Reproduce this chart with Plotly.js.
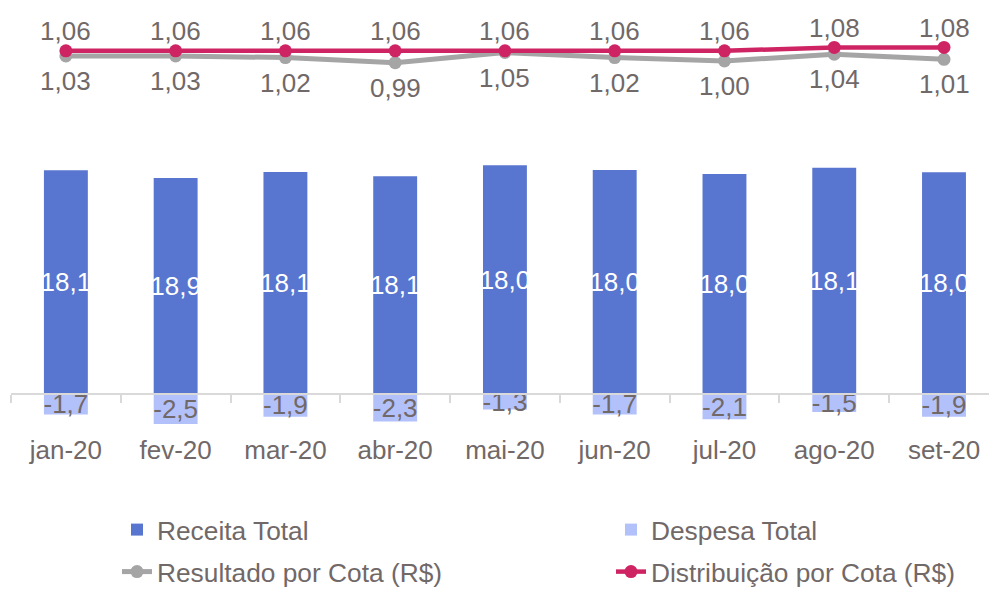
<!DOCTYPE html>
<html><head><meta charset="utf-8">
<script src="https://cdn.plot.ly/plotly-3.0.1.min.js"></script>
<style>html,body{margin:0;padding:0;background:#fff}#chart{width:989px;height:589px}</style>
</head><body><div id="chart"></div>
<script>
const months = ['jan-20','fev-20','mar-20','abr-20','mai-20','jun-20','jul-20','ago-20','set-20'];
const receitaTotal = [18.64,18.00,18.50,18.14,19.06,18.67,18.33,18.86,18.47];
const receitaLabels = [18.1,18.9,18.1,18.1,18.0,18.0,18.0,18.1,18.0];
const despesaTotal = [-1.7,-2.5,-1.9,-2.3,-1.3,-1.7,-2.1,-1.5,-1.9];
const resultadoPorCota = [1.03,1.03,1.02,0.99,1.05,1.02,1.00,1.04,1.01];
const distribuicaoPorCota = [1.06,1.06,1.06,1.06,1.06,1.06,1.06,1.08,1.08];

const FONT = 'Liberation Sans, Arial, sans-serif';
const TXT = '#716868';
const FS = 26;
const fmt = (v, d) => v.toFixed(d).replace('.', ',');

const traces = [
  {type:'bar', name:'Receita Total', x:months, y:receitaTotal,
   marker:{color:'#5876cf'}, text:receitaLabels.map(v=>fmt(v,1)),
   textposition:'inside', insidetextanchor:'middle', textangle:0, constraintext:'none',
   textfont:{family:FONT,size:FS,color:'#ffffff'}, legend:'legend', hoverinfo:'x+y'},
  {type:'bar', name:'Despesa Total', x:months, y:despesaTotal,
   marker:{color:'#b3c1fb'}, text:despesaTotal.map(v=>fmt(v,1)),
   textposition:'inside', insidetextanchor:'middle', textangle:0, constraintext:'none',
   textfont:{family:FONT,size:FS,color:TXT}, legend:'legend2', hoverinfo:'x+y'},
  {type:'scatter', mode:'lines+markers', name:'Resultado por Cota (R$)', x:months, y:resultadoPorCota,
   yaxis:'y2', line:{color:'#a5a5a5', width:5}, marker:{color:'#a5a5a5', size:13}, legend:'legend3'},
  {type:'scatter', mode:'lines+markers', name:'Distribuição por Cota (R$)', x:months, y:distribuicaoPorCota,
   yaxis:'y2', line:{color:'#cf2463', width:4.5}, marker:{color:'#cf2463', size:13}, legend:'legend4'}
];

const annotations = [];
months.forEach((m,i)=>{
  annotations.push({x:m, y:distribuicaoPorCota[i], xref:'x', yref:'y2', text:fmt(distribuicaoPorCota[i],2),
    showarrow:false, yshift:19.5, font:{family:FONT,size:FS,color:TXT}});
  annotations.push({x:m, y:resultadoPorCota[i], xref:'x', yref:'y2', text:fmt(resultadoPorCota[i],2),
    showarrow:false, yshift:-25, font:{family:FONT,size:FS,color:TXT}});
});

const legBase = {orientation:'h', xref:'container', yref:'container', xanchor:'left', yanchor:'middle',
  font:{family:FONT,size:26.3,color:TXT}, bgcolor:'rgba(0,0,0,0)', borderwidth:0};

const layout = {
  width:989, height:589,
  margin:{l:11, r:0, t:0, b:149, autoexpand:false},
  paper_bgcolor:'#fff', plot_bgcolor:'#fff',
  font:{family:FONT, color:TXT},
  barmode:'relative', bargap:0.6,
  showlegend:true,
  xaxis:{type:'category', range:[-0.5, 8.41], anchor:'free', position:46/440,
    showline:true, linecolor:'#d9d9d9', linewidth:2, ticks:'outside', tickson:'boundaries',
    ticklen:8, tickcolor:'#d9d9d9', tickwidth:2, showgrid:false, zeroline:false,
    tickfont:{family:FONT,size:FS,color:TXT}, ticklabelstandoff:33},
  yaxis:{range:[-46/12, 394/12], visible:false, showgrid:false, zeroline:false},
  yaxis2:{range:[1-379/170, 1+61/170], overlaying:'y', side:'right', visible:false, showgrid:false, zeroline:false},
  annotations:annotations,
  legend: Object.assign({}, legBase, {x:117/989, y:1-530/589}),
  legend2: Object.assign({}, legBase, {x:611/989, y:1-530/589}),
  legend3: Object.assign({}, legBase, {x:117/989, y:1-572/589}),
  legend4: Object.assign({}, legBase, {x:611/989, y:1-572/589})
};

Plotly.newPlot('chart', traces, layout, {staticPlot:true, displayModeBar:false});
</script></body></html>
